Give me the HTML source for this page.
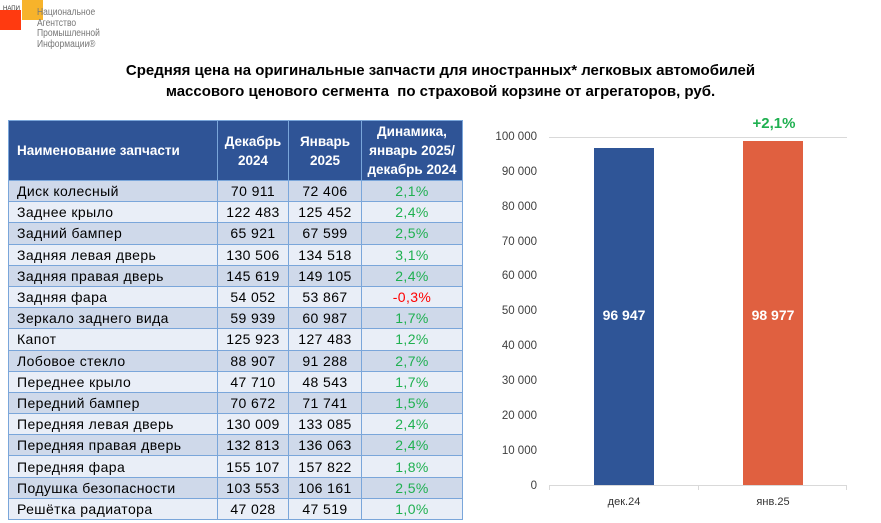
<!DOCTYPE html>
<html><head><meta charset="utf-8"><style>
body{margin:0;width:881px;height:523px;background:#fff;position:relative;overflow:hidden;font-family:"Liberation Sans","DejaVu Sans",sans-serif}
.t{position:absolute;left:0;width:881px;text-align:center;font-weight:bold;font-size:15px;color:#000}
table{position:absolute;left:8px;top:120px;border-collapse:collapse;width:455px}
td,th{border:1.5px solid #7aa6da;padding:0;font-size:14px;letter-spacing:0.4px;height:20.2px;line-height:20px}
th{background:#2f5496;color:#fff;font-weight:bold;font-size:13.5px;line-height:19px;letter-spacing:0;height:59px}
td{text-align:center}
td:first-child{text-align:left;padding-left:8px}
tr:nth-child(even) td{background:#cfd9ea}
tr:nth-child(odd) td{background:#e9eef7}
.g{color:#1fb050}.r{color:#ff0000}
.yl{position:absolute;right:344px;font-size:11.5px;color:#404040;transform:translateY(-50%)}
</style></head><body>
<div style="position:absolute;left:0;top:10px;width:21px;height:20px;background:#ff3a10"></div>
<div style="position:absolute;left:22px;top:0;width:21px;height:20px;background:#f7b32b"></div>
<div style="position:absolute;left:3px;top:6px;font-size:6px;color:#333">НАПИ</div>
<div style="position:absolute;left:37px;top:8px;font-size:10px;line-height:10.5px;color:#777;transform:scaleX(0.85);transform-origin:left">Национальное<br>Агентство<br>Промышленной<br>Информации®</div>
<div class="t" style="top:62px">Средняя цена на оригинальные запчасти для иностранных* легковых автомобилей</div>
<div class="t" style="top:83px">массового ценового сегмента&nbsp; по страховой корзине от агрегаторов, руб.</div>
<table>
<tr><th style="text-align:left;padding-left:8px;width:200px">Наименование запчасти</th><th style="width:70px">Декабрь<br>2024</th><th style="width:72px">Январь<br>2025</th><th>Динамика,<br>январь 2025/<br>декабрь 2024</th></tr>
<tr><td>Диск колесный</td><td>70 911</td><td>72 406</td><td class="g">2,1%</td></tr>
<tr><td>Заднее крыло</td><td>122 483</td><td>125 452</td><td class="g">2,4%</td></tr>
<tr><td>Задний бампер</td><td>65 921</td><td>67 599</td><td class="g">2,5%</td></tr>
<tr><td>Задняя левая дверь</td><td>130 506</td><td>134 518</td><td class="g">3,1%</td></tr>
<tr><td>Задняя правая дверь</td><td>145 619</td><td>149 105</td><td class="g">2,4%</td></tr>
<tr><td>Задняя фара</td><td>54 052</td><td>53 867</td><td class="r">-0,3%</td></tr>
<tr><td>Зеркало заднего вида</td><td>59 939</td><td>60 987</td><td class="g">1,7%</td></tr>
<tr><td>Капот</td><td>125 923</td><td>127 483</td><td class="g">1,2%</td></tr>
<tr><td>Лобовое стекло</td><td>88 907</td><td>91 288</td><td class="g">2,7%</td></tr>
<tr><td>Переднее крыло</td><td>47 710</td><td>48 543</td><td class="g">1,7%</td></tr>
<tr><td>Передний бампер</td><td>70 672</td><td>71 741</td><td class="g">1,5%</td></tr>
<tr><td>Передняя левая дверь</td><td>130 009</td><td>133 085</td><td class="g">2,4%</td></tr>
<tr><td>Передняя правая дверь</td><td>132 813</td><td>136 063</td><td class="g">2,4%</td></tr>
<tr><td>Передняя фара</td><td>155 107</td><td>157 822</td><td class="g">1,8%</td></tr>
<tr><td>Подушка безопасности</td><td>103 553</td><td>106 161</td><td class="g">2,5%</td></tr>
<tr><td>Решётка радиатора</td><td>47 028</td><td>47 519</td><td class="g">1,0%</td></tr>
</table>
<div style="position:absolute;left:549px;top:137px;width:298px;height:1px;background:#d9d9d9"></div>
<div style="position:absolute;left:549px;top:485px;width:298px;height:1px;background:#d9d9d9"></div>
<div style="position:absolute;left:549px;top:485px;width:1px;height:5px;background:#d9d9d9"></div>
<div style="position:absolute;left:698px;top:485px;width:1px;height:5px;background:#d9d9d9"></div>
<div style="position:absolute;left:846px;top:485px;width:1px;height:5px;background:#d9d9d9"></div>
<div class="yl" style="top:137px">100 000</div>
<div class="yl" style="top:172px">90 000</div>
<div class="yl" style="top:207px">80 000</div>
<div class="yl" style="top:242px">70 000</div>
<div class="yl" style="top:276px">60 000</div>
<div class="yl" style="top:311px">50 000</div>
<div class="yl" style="top:346px">40 000</div>
<div class="yl" style="top:381px">30 000</div>
<div class="yl" style="top:416px">20 000</div>
<div class="yl" style="top:451px">10 000</div>
<div class="yl" style="top:486px">0</div>
<div style="position:absolute;left:594px;top:148px;width:60px;height:337px;background:#2f5597"></div>
<div style="position:absolute;left:743px;top:141px;width:60px;height:344px;background:#e06040"></div>
<div style="position:absolute;left:594px;width:60px;top:307px;text-align:center;color:#fff;font-weight:bold;font-size:14px">96 947</div>
<div style="position:absolute;left:743px;width:60px;top:307px;text-align:center;color:#fff;font-weight:bold;font-size:14px">98 977</div>
<div style="position:absolute;left:724px;width:100px;top:115px;text-align:center;color:#1fb050;font-weight:bold;font-size:15px">+2,1%</div>
<div style="position:absolute;left:594px;width:60px;top:496px;text-align:center;color:#333;font-size:11px">дек.24</div>
<div style="position:absolute;left:743px;width:60px;top:496px;text-align:center;color:#333;font-size:11px">янв.25</div>
</body></html>
